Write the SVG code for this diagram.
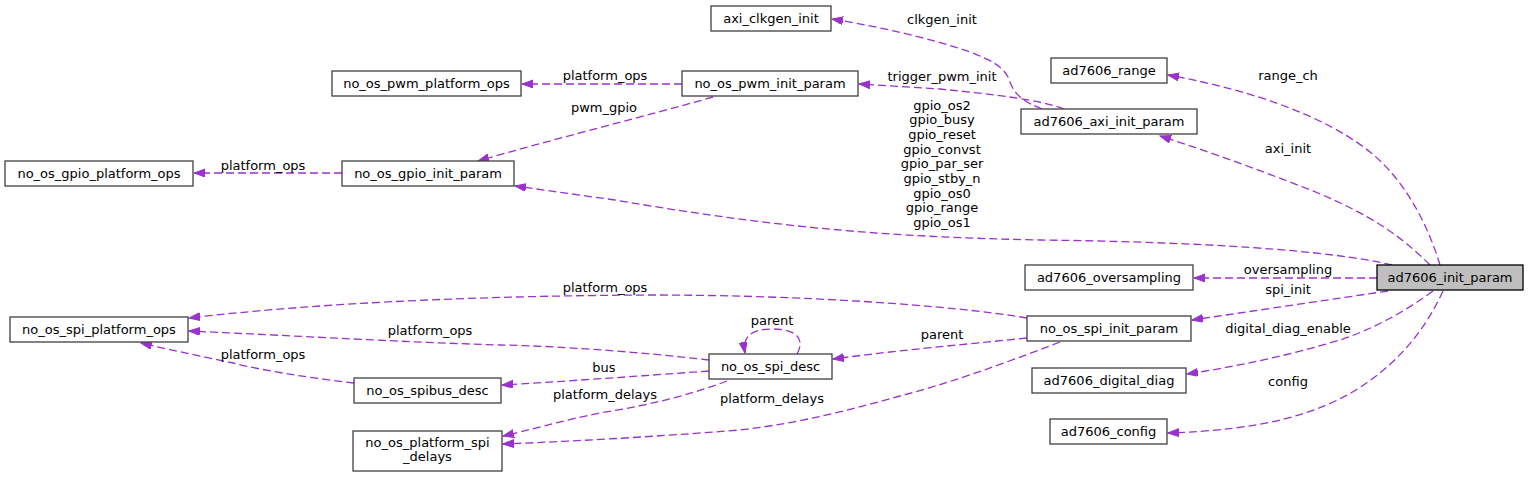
<svg xmlns="http://www.w3.org/2000/svg" width="1528" height="477" viewBox="0 0 1528 477">
<style>
text{font-family:"DejaVu Sans","Liberation Sans",sans-serif;font-size:13px;fill:#000;text-anchor:middle}
.n rect{fill:#fff;stroke:#404040;stroke-width:1.3}
.main rect{fill:#bfbfbf;stroke:#000}
.e path{fill:none;stroke:#9a32cd;stroke-width:1.3;stroke-dasharray:8,4;marker-end:url(#ah)}
</style>
<defs>
<marker id="ah" markerUnits="userSpaceOnUse" markerWidth="12" markerHeight="9" refX="11" refY="4" orient="auto">
<path d="M0,0 L11,4 L0,8 z" fill="#9a32cd" stroke="#9a32cd" stroke-width="1"/>
</marker>
</defs>
<rect width="1528" height="477" fill="#fff"/>
<g id="edges" class="e">
<path d="M1440,265 C1428,225 1405,180 1370,152 C1320,112 1240,88 1168,75"/>
<path d="M1430,265 C1400,235 1370,215 1318,193 C1280,178 1220,155 1160,136"/>
<path d="M1392,265 C1330,250 1200,242 1040,240 C900,237 790,230 615,200 L515,186"/>
<path d="M1377,278 L1194,278"/>
<path d="M1388,291 L1192,320"/>
<path d="M1433,291 C1400,315 1370,330 1340,340 C1290,355 1240,366 1187,374"/>
<path d="M1443,291 C1425,330 1400,360 1365,384 C1320,415 1260,430 1168,433"/>
<path d="M1042,109 C1025,102 1015,96 1010,82 C1005,66 990,60 970,52 C930,38 880,27 832,19"/>
<path d="M1064,109 C1040,100 1000,95 940,89 L859,84"/>
<path d="M682,84 L522,84"/>
<path d="M713,97 C650,115 550,140 478,161"/>
<path d="M342,173 L194,173"/>
<path d="M1027,318 C950,305 800,295 650,295 C450,296 300,305 189,318"/>
<path d="M709,360 C640,352 560,346 500,345 C400,342 300,336 189,331"/>
<path d="M354,383 C310,378 260,370 233,363 C200,356 170,350 141,343"/>
<path d="M797,354 C805,340 798,329 772,329 C752,329 742,336 745,353"/>
<path d="M1027,338 C960,345 900,350 833,359"/>
<path d="M709,371 C640,376 570,381 502,385"/>
<path d="M727,381 C690,395 650,405 600,413 C560,421 530,430 503,436"/>
<path d="M1060,342 C1000,365 950,383 900,396 C850,410 800,423 740,430 C650,437 580,441 503,444"/>
</g>
<g id="edge-labels">
<text x="942" y="24">clkgen_init</text>
<text x="942" y="81">trigger_pwm_init</text>
<text x="605" y="80">platform_ops</text>
<text x="604" y="112">pwm_gpio</text>
<text x="1288" y="80">range_ch</text>
<text x="1288" y="153">axi_init</text>
<text x="942" y="109.5">gpio_os2</text>
<text x="942" y="124.2">gpio_busy</text>
<text x="942" y="138.9">gpio_reset</text>
<text x="942" y="153.6">gpio_convst</text>
<text x="942" y="168.3">gpio_par_ser</text>
<text x="942" y="183">gpio_stby_n</text>
<text x="942" y="197.7">gpio_os0</text>
<text x="942" y="212.4">gpio_range</text>
<text x="942" y="227.1">gpio_os1</text>
<text x="263" y="169.5">platform_ops</text>
<text x="1288" y="274">oversampling</text>
<text x="1288" y="294">spi_init</text>
<text x="1288" y="333">digital_diag_enable</text>
<text x="1288" y="386">config</text>
<text x="605" y="292">platform_ops</text>
<text x="430" y="335">platform_ops</text>
<text x="263" y="359">platform_ops</text>
<text x="772" y="325">parent</text>
<text x="942" y="339">parent</text>
<text x="604" y="372">bus</text>
<text x="605" y="399">platform_delays</text>
<text x="772" y="403">platform_delays</text>
</g>
<g id="ad7606_init_param" class="n main"><rect x="1377" y="265" width="146" height="25"/><text x="1450" y="282">ad7606_init_param</text></g>
<g id="ad7606_range" class="n"><rect x="1051" y="58" width="116" height="25"/><text x="1109" y="75">ad7606_range</text></g>
<g id="ad7606_axi_init_param" class="n"><rect x="1021" y="109" width="176" height="25"/><text x="1109" y="126">ad7606_axi_init_param</text></g>
<g id="axi_clkgen_init" class="n"><rect x="711" y="6" width="120" height="25"/><text x="771" y="23">axi_clkgen_init</text></g>
<g id="no_os_pwm_init_param" class="n"><rect x="682" y="71" width="176" height="25"/><text x="770" y="88">no_os_pwm_init_param</text></g>
<g id="no_os_pwm_platform_ops" class="n"><rect x="332" y="71" width="189" height="25"/><text x="426.5" y="88">no_os_pwm_platform_ops</text></g>
<g id="no_os_gpio_init_param" class="n"><rect x="342" y="161" width="172" height="25"/><text x="428" y="178">no_os_gpio_init_param</text></g>
<g id="no_os_gpio_platform_ops" class="n"><rect x="5" y="161" width="188" height="25"/><text x="99" y="178">no_os_gpio_platform_ops</text></g>
<g id="ad7606_oversampling" class="n"><rect x="1025" y="265" width="168" height="25"/><text x="1109" y="282">ad7606_oversampling</text></g>
<g id="no_os_spi_init_param" class="n"><rect x="1027" y="316" width="164" height="25"/><text x="1109" y="333">no_os_spi_init_param</text></g>
<g id="ad7606_digital_diag" class="n"><rect x="1032" y="368" width="154" height="25"/><text x="1109" y="385">ad7606_digital_diag</text></g>
<g id="ad7606_config" class="n"><rect x="1050" y="419" width="117" height="25"/><text x="1108.5" y="436">ad7606_config</text></g>
<g id="no_os_spi_platform_ops" class="n"><rect x="10" y="317" width="178" height="25"/><text x="99" y="334">no_os_spi_platform_ops</text></g>
<g id="no_os_spi_desc" class="n"><rect x="709" y="354" width="123" height="25"/><text x="770.5" y="371">no_os_spi_desc</text></g>
<g id="no_os_spibus_desc" class="n"><rect x="354" y="378" width="147" height="25"/><text x="427.5" y="395">no_os_spibus_desc</text></g>
<g id="no_os_platform_spi_delays" class="n"><rect x="353" y="431" width="149" height="40"/><text x="427.5" y="447">no_os_platform_spi</text><text x="427.5" y="461">_delays</text></g>
</svg>
